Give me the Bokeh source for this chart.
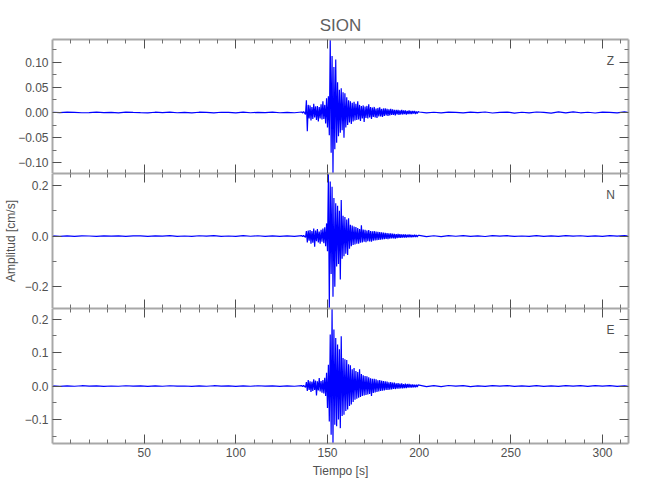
import numpy as np
from bokeh.plotting import figure
from bokeh.layouts import column
from bokeh.models import Range1d, LinearAxis, FixedTicker, Label
from bokeh.embed import file_html
from bokeh.resources import INLINE

# ---------------- data ----------------
title_text = "SION"
components = ["Z", "N", "E"]
x_label = "Tiempo [s]"
y_label = "Amplitud [cm/s]"

t_start, t_end = 0.0, 314.2
pre_start, pre_step = 0.0, 4.0     # quiet part before the event
main_start, main_step = 136.0, 0.5  # event
post_start, post_step = 200.0, 4.0  # coda / quiet part

z_pre = [0.0005, -0.0004, 0.0006, 0.0002, -0.0005, -0.0003, 0.0007, -0.0004, 0.0003, -0.0006,
         0.0008, 0.0001, -0.0004, -0.0006, 0.0005, -0.0002, 0.0006, -0.0005, 0.0002, -0.0007,
         0.0005, 0.0001, -0.0006, 0.0004, 0.0003, -0.0006, 0.0007, -0.0005, 0.0002, -0.0004,
         0.0006, -0.0005, 0.0003, -0.0005]
z_main = [0.001, -0.001, 0.002, -0.001, -0.004, 0.024, -0.037, 0.015,
          -0.012, 0.014, -0.016, 0.011, -0.013, 0.017, -0.010, 0.012, -0.015, 0.013,
          -0.018, 0.011, -0.012, 0.016, -0.014, 0.022, -0.013, 0.015,
          -0.022, 0.028, -0.030, 0.032, -0.045,
          0.1447, -0.080, 0.112, -0.121, 0.090, -0.073, 0.105, -0.060, 0.060, -0.047,
          0.045, -0.040, 0.048, -0.035, 0.040, -0.050, 0.038, -0.030, 0.030, -0.025,
          0.024, -0.020, 0.022, -0.023, 0.019, -0.018, 0.021, -0.016, 0.017, -0.015,
          0.022, -0.014, 0.015, -0.017, 0.013, -0.012, 0.014, -0.019, 0.012, -0.011,
          0.013, -0.012, 0.016, -0.010, 0.011, -0.013, 0.010, -0.009, 0.011, -0.010,
          0.008, -0.011, 0.009, -0.008, 0.010, -0.008, 0.007, -0.009, 0.008, -0.007,
          0.008, -0.006, 0.007, -0.007, 0.006, -0.006, 0.007, -0.005, 0.006, -0.005,
          0.005, -0.006, 0.005, -0.004, 0.005, -0.005, 0.004, -0.004, 0.005, -0.004,
          0.004, -0.003, 0.004, -0.004, 0.003, -0.003, 0.004, -0.003, 0.003, -0.003,
          0.003, -0.002, 0.003, -0.003, 0.002, -0.002, 0.002]
z_post = [0.0010, -0.0008, 0.0004, -0.0009, 0.0007, 0.0002, -0.0008, 0.0006, -0.0004, 0.0009,
          -0.0010, 0.0003, 0.0008, -0.0011, 0.0005, -0.0006, 0.0009, 0.0001, -0.0012, 0.0013,
          -0.0009, 0.0012, -0.0006, 0.0004, -0.0010, 0.0007, 0.0002, -0.0009, 0.0011, -0.0008]

n_pre = [0.0012, -0.001, 0.0006, -0.0016, 0.001, 0.0003, -0.0012, 0.001, -0.0006, 0.0011,
         -0.0014, 0.0004, 0.001, -0.0015, 0.0008, -0.0004, 0.0014, -0.0012, 0.0003, -0.0016,
         0.0012, -0.0006, 0.0015, -0.0012, 0.0002, -0.0013, 0.0016, -0.0008, 0.0012, -0.001,
         0.0004, -0.0012, 0.001, -0.0012]
n_main = [0.002, -0.002, 0.003, -0.002, -0.005, 0.020, -0.025, 0.022,
          -0.018, 0.024, -0.030, 0.020, -0.026, 0.030, -0.042, 0.022, -0.020, 0.028,
          -0.025, 0.018, -0.030, 0.025, -0.022, 0.030, -0.028, 0.035,
          -0.040, 0.050, -0.060, 0.247, -0.286, 0.215, -0.150, 0.195, -0.240, 0.150,
          -0.200, 0.130, -0.120, 0.120, -0.110, 0.100, -0.171, 0.142, -0.090, 0.080,
          -0.080, 0.075, -0.070, 0.065, -0.075, 0.070, -0.050, 0.045, -0.040, 0.042,
          -0.035, 0.038, -0.033, 0.036, -0.030, 0.032, -0.030, 0.028, -0.026, 0.043,
          -0.025, 0.026, -0.022, 0.025, -0.024, 0.022, -0.020, 0.024, -0.021, 0.020,
          -0.022, 0.019, -0.018, 0.020, -0.017, 0.018, -0.016, 0.017, -0.015, 0.016,
          -0.014, 0.015, -0.013, 0.014, -0.012, 0.013, -0.011, 0.012, -0.012, 0.011,
          -0.010, 0.011, -0.009, 0.010, -0.009, 0.009, -0.010, 0.008, -0.008, 0.009,
          -0.007, 0.008, -0.007, 0.007, -0.006, 0.007, -0.006, 0.006, -0.006, 0.005,
          -0.005, 0.006, -0.005, 0.005, -0.005, 0.004, -0.004, 0.005, -0.004, 0.004,
          -0.004, 0.003]
n_post = [0.003, -0.0025, 0.0012, -0.002, 0.002, -0.0008, 0.002, -0.0016, 0.0005, -0.0018,
          0.0016, -0.0004, 0.0015, -0.0016, 0.0003, -0.0015, 0.0016, -0.0013, 0.0004, -0.0015,
          0.0016, -0.0006, 0.0013, -0.0016, 0.0004, -0.0013, 0.0015, -0.0004, 0.0016, -0.0013]

e_pre = [0.0006, -0.0008, 0.0002, -0.0006, 0.0009, -0.0003, 0.0006, -0.0008, 0.0001, -0.0007,
         0.0008, -0.0002, 0.0006, -0.0009, 0.0003, -0.0006, 0.0008, -0.0005, 0.0001, -0.0008,
         0.0005, -0.0006, 0.0009, -0.0002, 0.0006, -0.0008, 0.0003, -0.0007, 0.0008, -0.0005,
         0.0002, -0.0008, 0.0005, -0.0006]
e_main = [0.001, -0.002, 0.002, -0.001, -0.004, 0.012, -0.015, 0.018,
          -0.012, 0.014, -0.018, 0.013, -0.015, 0.020, -0.012, 0.016, -0.028, 0.014,
          -0.013, 0.024, -0.016, 0.015, -0.020, 0.018, -0.022, 0.025,
          -0.030, 0.040, -0.066, 0.064, -0.106, 0.154, -0.146, 0.232, -0.172, 0.169,
          -0.116, 0.144, -0.120, 0.124, -0.100, 0.110, -0.126, 0.149, -0.090, 0.084,
          -0.086, 0.080, -0.075, 0.078, -0.070, 0.065, -0.060, 0.062, -0.055, 0.050,
          -0.048, 0.054, -0.041, 0.045, -0.038, 0.042, -0.035, 0.050, -0.033, 0.036,
          -0.030, 0.032, -0.028, 0.030, -0.027, 0.029, -0.025, 0.026, -0.024, 0.023,
          -0.030, 0.022, -0.021, 0.022, -0.019, 0.020, -0.018, 0.017, -0.016, 0.018,
          -0.015, 0.016, -0.014, 0.015, -0.013, 0.014, -0.012, 0.013, -0.012, 0.011,
          -0.011, 0.012, -0.010, 0.010, -0.009, 0.010, -0.009, 0.008, -0.008, 0.009,
          -0.008, 0.007, -0.007, 0.008, -0.007, 0.006, -0.006, 0.007, -0.006, 0.006,
          -0.005, 0.006, -0.005, 0.005, -0.005, 0.005, -0.004, 0.004, -0.004, 0.004,
          -0.003, 0.004]
e_post = [0.0025, -0.002, 0.001, -0.0018, 0.0016, -0.0005, 0.0014, -0.0016, 0.0004, -0.0013,
          0.0012, -0.0003, 0.0013, -0.0011, 0.0002, -0.0012, 0.0011, -0.0013, 0.0004, -0.0011,
          0.0012, -0.0003, 0.0011, -0.0012, 0.0013, -0.0004, 0.0011, -0.0012, 0.0002, -0.0011]

# tick values and labels
x_major = [50, 100, 150, 200, 250, 300]
x_minor = [10, 20, 30, 40, 60, 70, 80, 90, 110, 120, 130, 140, 160, 170, 180, 190,
           210, 220, 230, 240, 260, 270, 280, 290, 310]
z_major = [-0.10, -0.05, 0.0, 0.05, 0.10]
z_labels = ["\u22120.10", "\u22120.05", "0.00", "0.05", "0.10"]
z_minor = [-0.125, -0.075, -0.025, 0.025, 0.075, 0.125]
n_major = [-0.2, 0.0, 0.2]
n_labels = ["\u22120.2", "0.0", "0.2"]
n_minor = [-0.3, -0.1, 0.1, 0.3]
e_major = [-0.1, 0.0, 0.1, 0.2]
e_labels = ["\u22120.1", "0.0", "0.1", "0.2"]
e_minor = [-0.15, -0.05, 0.05, 0.15, 0.25]

# ---------------- styling ----------------
FONT = "Liberation Sans"
TXT = "#505050"
AXC = "#a8a8a8"
TICKC = "#505050"
FRAME_W = 576


def series(pre, main, post):
    t = np.concatenate([pre_start + pre_step * np.arange(len(pre)),
                        main_start + main_step * np.arange(len(main)),
                        post_start + post_step * np.arange(len(post))])
    y = np.concatenate([pre, main, post])
    return t, y


def add_axis(p, side, ticks, minors, labels=None, label_text=None):
    ax = LinearAxis(ticker=FixedTicker(ticks=ticks, minor_ticks=minors))
    ax.axis_line_color = AXC
    ax.axis_line_width = 2
    ax.major_tick_in = 9
    ax.major_tick_out = 0
    ax.minor_tick_in = 4
    ax.minor_tick_out = 0
    ax.major_tick_line_color = TICKC
    ax.minor_tick_line_color = "#707070"
    if labels is None:
        ax.major_label_text_font_size = "0px"
        ax.major_label_standoff = 0
        ax.major_label_overrides = {tk: "" for tk in ticks}
    else:
        ax.major_label_overrides = {tk: lb for tk, lb in zip(ticks, labels)}
        ax.major_label_text_font = FONT
        ax.major_label_text_font_size = "12px"
        ax.major_label_text_color = TXT
        ax.major_label_standoff = 4
    if label_text:
        ax.axis_label = label_text
        ax.axis_label_text_font = FONT
        ax.axis_label_text_font_size = "12px"
        ax.axis_label_text_font_style = "normal"
        ax.axis_label_text_color = TXT
        ax.axis_label_standoff = 4
    p.add_layout(ax, side)
    return ax


def panel(tv, yv, comp, ymajor, ylabels, yminor, frame_h, top, bottom,
          show_x_labels=False, ylab=None, title=None):
    ymin, ymax = float(np.min(yv)), float(np.max(yv))
    p = figure(frame_width=FRAME_W, frame_height=frame_h,
               x_range=Range1d(t_start, t_end), y_range=Range1d(ymin, ymax),
               x_axis_location=None, y_axis_location=None,
               output_backend="svg", toolbar_location=None,
               min_border_left=48, min_border_right=26,
               min_border_top=top, min_border_bottom=bottom)
    p.grid.visible = False
    p.outline_line_color = None
    p.background_fill_color = "white"
    p.border_fill_color = "white"
    p.line(tv, yv, line_color="#0000ff", line_width=1.2)
    add_axis(p, "left", ymajor, yminor, ylabels, ylab)
    add_axis(p, "right", ymajor, yminor)
    add_axis(p, "above", x_major, x_minor)
    add_axis(p, "below", x_major, x_minor,
             [str(v) for v in x_major] if show_x_labels else None,
             x_label if show_x_labels else None)
    p.add_layout(Label(x=558, y=frame_h - 21, x_units="screen", y_units="screen",
                       text=comp, text_font=FONT, text_font_size="12px",
                       text_color=TXT, text_align="center", text_baseline="middle"))
    if title:
        p.title.text = title
        p.title.align = "center"
        p.title.text_font = FONT
        p.title.text_font_size = "17px"
        p.title.text_font_style = "normal"
        p.title.text_color = "#606060"
    return p


tz, yz = series(z_pre, z_main, z_post)
tn, yn = series(n_pre, n_main, n_post)
te, ye = series(e_pre, e_main, e_post)

p1 = panel(tz, yz, components[0], z_major, z_labels, z_minor, 134, 39, 0, title=title_text)
p2 = panel(tn, yn, components[1], n_major, n_labels, n_minor, 135, 0, 0, ylab=y_label)
p3 = panel(te, ye, components[2], e_major, e_labels, e_minor, 135, 0, 48, show_x_labels=True)

layout = column(p1, p2, p3, spacing=0)
open("out.html", "w").write(file_html(layout, INLINE))
